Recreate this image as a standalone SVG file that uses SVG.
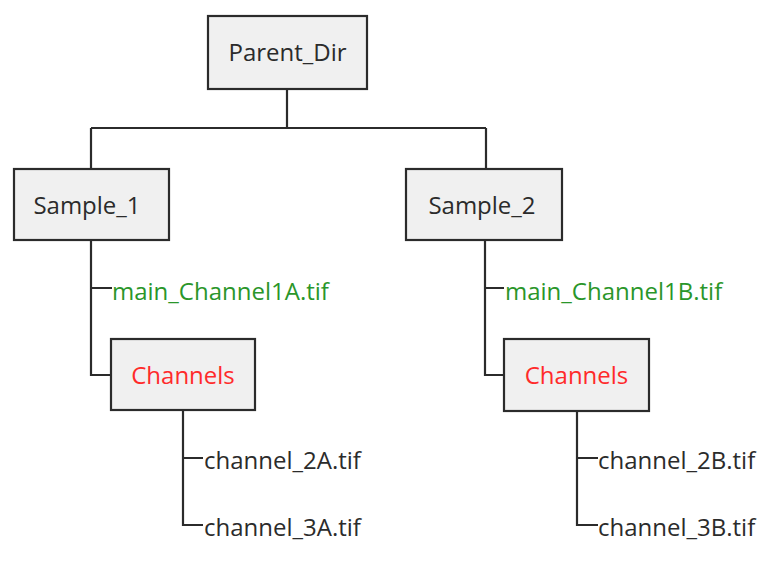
<svg xmlns="http://www.w3.org/2000/svg" width="774" height="562" viewBox="0 0 774 562">
<style>
.box{fill:#f0f0f0;stroke:#2b2b2b;stroke-width:2.2}
.lbl{font-family:"Open Sans","Noto Sans",sans-serif;font-size:24px;fill:#2b2b2b}
.mid{text-anchor:middle}
.green{fill:#2a962a}
.red{fill:#ff2a2a}
.edge{fill:none;stroke:#2b2b2b;stroke-width:2.2}
</style>
<rect width="774" height="562" fill="#ffffff"/>
<g id="connectors">
<path class="edge" d="M287,89V128M91,128H486M91,128V169M486,128V169"/>
<path class="edge" d="M91,240V375H111M91,288H112"/>
<path class="edge" d="M485,240V375H504M485,288H504"/>
<path class="edge" d="M183,410V525H203M183,458H203"/>
<path class="edge" d="M577,411V525H598M577,458H598"/>
</g>
<g id="parent_dir"><rect class="box" x="208" y="16" width="159" height="73"/><text class="lbl mid" x="287.5" y="61">Parent_Dir</text></g>
<g id="sample_1"><rect class="box" x="14" y="169" width="155" height="71"/><text class="lbl mid" x="87" y="214">Sample_1</text></g>
<g id="sample_2"><rect class="box" x="406" y="169" width="156" height="71"/><text class="lbl mid" x="482" y="214">Sample_2</text></g>
<g id="main_1a"><text class="lbl green" x="112" y="300">main_Channel1A.tif</text></g>
<g id="main_1b"><text class="lbl green" x="505" y="300">main_Channel1B.tif</text></g>
<g id="channels_1"><rect class="box" x="111" y="339" width="144" height="71"/><text class="lbl mid red" x="183" y="384">Channels</text></g>
<g id="channels_2"><rect class="box" x="504" y="339" width="145" height="72"/><text class="lbl mid red" x="576.5" y="384">Channels</text></g>
<g id="ch2a"><text class="lbl" x="204" y="469">channel_2A.tif</text></g>
<g id="ch3a"><text class="lbl" x="204" y="536">channel_3A.tif</text></g>
<g id="ch2b"><text class="lbl" x="598" y="469">channel_2B.tif</text></g>
<g id="ch3b"><text class="lbl" x="598" y="536">channel_3B.tif</text></g>
</svg>
